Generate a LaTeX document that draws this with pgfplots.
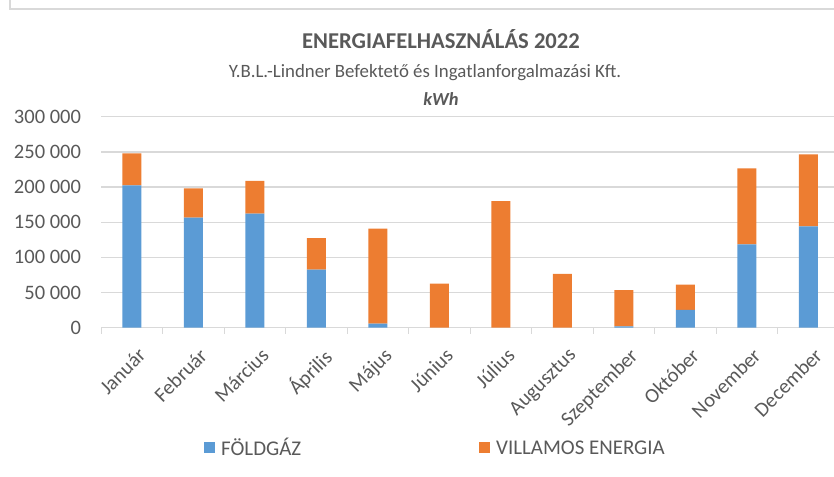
\documentclass[border=0pt]{standalone}
\usepackage{pgfplots}
\pgfplotsset{compat=1.18}
\usepackage{fontspec}
\setmainfont{Carlito}
\definecolor{cblue}{HTML}{5B9BD5}
\definecolor{corange}{HTML}{ED7D31}
\definecolor{ctext}{HTML}{595959}
\definecolor{cgrid}{HTML}{D9D9D9}
\begin{document}
\begin{tikzpicture}[x=1bp,y=1bp]
\begin{axis}[
  at={(101.2bp,149.3bp)}, anchor=south west,
  scale only axis, width=738bp, height=211bp,
  xmin=-0.5, xmax=11.5, ymin=0, ymax=300000,
  ybar stacked, bar width=19bp,
  axis x line*=bottom, axis y line*=left,
  y axis line style={draw=none},
  x axis line style={draw=cgrid, line width=1.3bp},
  xtick={0,...,11},
  xticklabels={Január,Február,Március,Április,Május,Június,Július,Augusztus,Szeptember,Október,November,December},
  minor xtick={-0.5,0.5,...,11.5},
  major tick length=0pt, minor tick length=6bp,
  tick align=outside,
  minor tick style={draw=cgrid, line width=1.3bp},
  ytick={0,50000,...,300000},
  ymajorgrids, major grid style={draw=cgrid, line width=1.3bp},
  scaled y ticks=false,
  /pgf/number format/.cd, fixed, 1000 sep={\ }, assume math mode=true,
  /pgfplots/.cd,
  ticklabel style={font=\fontsize{20.6}{23}\selectfont, text=ctext},
  yticklabel style={anchor=east, inner sep=0pt, xshift=-20bp},
  xticklabel style={xshift=5bp, yshift=-19bp, rotate=45, anchor=north east, inner sep=0pt},
  legend style={draw=none, fill=none, at={(0.453,-0.570)}, anchor=center,
    font=\fontsize{21}{23}\selectfont, text=ctext, legend columns=2,
    /tikz/every odd column/.append style={column sep=4bp},
    /tikz/every even column/.append style={column sep=176bp}},
  legend image code/.code={\fill[#1] (-4bp,-5.5bp) rectangle (7bp,5.5bp);},
]
\addplot[fill=cblue, draw=none] coordinates {
(0,202400) (1,156400) (2,162100) (3,82500) (4,5700) (5,0) (6,0) (7,0) (8,2000) (9,25200) (10,118500) (11,144100)};
\addplot[fill=corange, draw=none] coordinates {
(0,45500) (1,41800) (2,46500) (3,45000) (4,135100) (5,62600) (6,180100) (7,76400) (8,51600) (9,36000) (10,108100) (11,102400)};
\legend{FÖLDGÁZ, VILLAMOS ENERGIA}
\end{axis}
\draw[cgrid, line width=1.5bp] (10bp,477bp) -- (10bp,468bp) -- (840bp,468bp);
\node[text=ctext, font=\fontsize{22.7}{26}\selectfont\bfseries] at (441bp,437.5bp) {ENERGIAFELHASZNÁLÁS 2022};
\node[text=ctext, font=\fontsize{18.9}{22}\selectfont] at (425bp,404bp) {Y.B.L.-Lindner Befektető és Ingatlanforgalmazási Kft.};
\node[text=ctext, font=\fontsize{18.5}{22}\selectfont\bfseries\itshape] at (441bp,378bp) {kWh};
\pgfresetboundingbox
\path[use as bounding box] (0bp,0bp) rectangle (834bp,477bp);
\end{tikzpicture}
\end{document}
